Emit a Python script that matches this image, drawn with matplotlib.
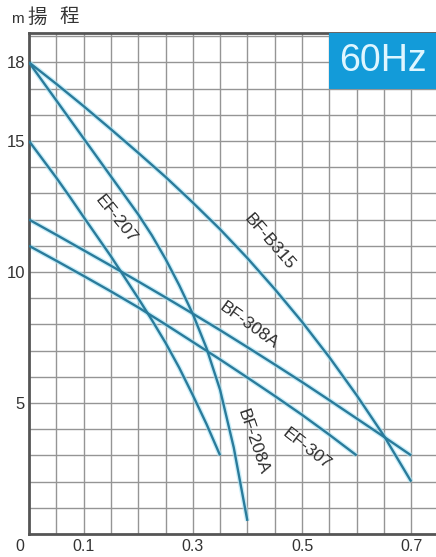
import matplotlib
matplotlib.use("Agg")
import matplotlib.pyplot as plt
import matplotlib.transforms as mtransforms
from matplotlib.patches import Rectangle
import numpy as np

# ---- data (flow m3/min, head m) ----
bfb315_q = [0.0, 0.05, 0.1, 0.15, 0.2, 0.25, 0.3, 0.35, 0.4, 0.45, 0.5, 0.55, 0.6, 0.65, 0.7]
bfb315_h = [18.0, 17.18, 16.33, 15.45, 14.55, 13.63, 12.65, 11.63, 10.53, 9.35, 8.1, 6.75, 5.3, 3.75, 2.0]

bf308a_q = [0.0, 0.05, 0.1, 0.15, 0.2, 0.25, 0.3, 0.35, 0.4, 0.45, 0.5, 0.55, 0.6, 0.65, 0.7]
bf308a_h = [12.0, 11.42, 10.83, 10.24, 9.64, 9.03, 8.41, 7.78, 7.13, 6.47, 5.8, 5.11, 4.41, 3.71, 3.0]

ef307_q = [0.0, 0.05, 0.1, 0.15, 0.2, 0.25, 0.3, 0.35, 0.4, 0.45, 0.5, 0.55, 0.6]
ef307_h = [11.0, 10.43, 9.85, 9.26, 8.65, 8.0, 7.33, 6.66, 5.97, 5.27, 4.55, 3.79, 3.0]

ef207_q = [0.0, 0.025, 0.05, 0.075, 0.1, 0.125, 0.15, 0.175, 0.2, 0.225, 0.25, 0.275, 0.3, 0.325, 0.35]
ef207_h = [15.0, 14.3, 13.6, 12.86, 12.1, 11.35, 10.6, 9.8, 9.0, 8.17, 7.3, 6.35, 5.3, 4.2, 3.0]

bf208a_q = [0.0, 0.05, 0.1, 0.15, 0.2, 0.225, 0.25, 0.275, 0.3, 0.325, 0.35, 0.375, 0.4]
bf208a_h = [18.0, 16.55, 15.1, 13.65, 12.2, 11.4, 10.5, 9.5, 8.4, 7.1, 5.5, 3.3, 0.5]

x_ticks = [0, 0.1, 0.3, 0.5, 0.7]
x_tick_labels = ["0", "0.1", "0.3", "0.5", "0.7"]
y_ticks = [5, 10, 15, 18]
y_tick_labels = ["5", "10", "15", "18"]

curve_labels = [
    # text, x, y, rotation
    ("BF-B315", 0.44, 11.15, -49),
    ("BF-308A", 0.403, 7.95, -36),
    ("EF-307", 0.508, 3.25, -38),
    ("BF-208A", 0.41, 3.5, -71),
    ("EF-207", 0.16, 12.0, -51),
]

W, H = 436, 557
fig = plt.figure(figsize=(W / 100, H / 100), dpi=100)
left_px, bottom_px, top_px = 29, 23, 33
ax = fig.add_axes([left_px / W, bottom_px / H, 1 - left_px / W, (H - bottom_px - top_px) / H])
px_per_q = 546.0
px_per_h = 26.2
ax.set_xlim(0, (W - left_px) / px_per_q)
ax.set_ylim(0, (H - bottom_px - top_px) / px_per_h)

# grid
for xv in np.arange(0.05, 0.76, 0.05):
    ax.axvline(xv, color="#959595", lw=1.0, zorder=1)
for yv in range(1, 20):
    ax.axhline(yv, color="#959595", lw=1.0, zorder=1)

for s in ["left", "bottom", "top"]:
    ax.spines[s].set_color("#555555")
    ax.spines[s].set_linewidth(2)
ax.spines["right"].set_visible(False)

ax.set_xticks(x_ticks)
ax.set_xticklabels(x_tick_labels, fontsize=11.5, color="#333333", family="Liberation Sans")
ax.set_yticks(y_ticks)
ax.set_yticklabels(y_tick_labels, fontsize=12, color="#333333", family="Liberation Sans")
ax.tick_params(axis="both", length=0)
ax.tick_params(axis="x", pad=3.5)
ax.tick_params(axis="y", pad=3)
lab0 = ax.get_xticklabels()[0]
lab0.set_transform(lab0.get_transform() + mtransforms.ScaledTranslation(-9 / 100, 0, fig.dpi_scale_trans))

# curves
for q, h in [(bfb315_q, bfb315_h), (bf308a_q, bf308a_h), (ef307_q, ef307_h),
             (ef207_q, ef207_h), (bf208a_q, bf208a_h)]:
    ax.plot(q, h, color="#a8e4f5", lw=3.6, alpha=0.6, zorder=2, solid_capstyle="butt")
    ax.plot(q, h, color="#2a7b9b", lw=1.7, zorder=3, solid_capstyle="butt")

for txt, xq, yh, rot in curve_labels:
    ax.text(xq, yh, txt, rotation=rot, rotation_mode="anchor", ha="center", va="center",
            fontsize=12.5, color="#2e2e2e", family="Liberation Sans", zorder=4)

# 60Hz box
ax.add_patch(Rectangle((0.55, 17.0), 0.3, 3, facecolor="#139bd9", edgecolor="none", zorder=5, clip_on=True))
ax.text(0.6475, 18.05, "60Hz", ha="center", va="center", fontsize=27, color="#dff6ff",
        family="Liberation Sans", zorder=6)

# axis title
cjk = ["Noto Sans CJK JP", "DejaVu Sans"]
fig.text(11 / W, 1 - 19 / H, "m", fontsize=11, color="#333333", family="Liberation Sans", va="center", ha="left")
fig.text(27 / W, 1 - 17 / H, "揚", fontsize=14, color="#333333", family=cjk, va="center", ha="left")
fig.text(59 / W, 1 - 17 / H, "程", fontsize=14, color="#333333", family=cjk, va="center", ha="left")

fig.savefig("out.png", dpi=100)
